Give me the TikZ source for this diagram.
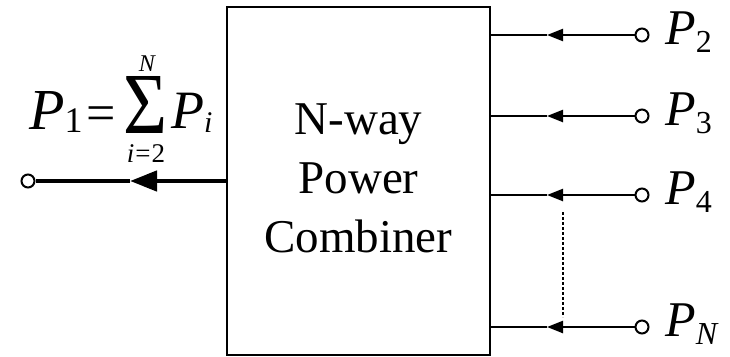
\documentclass[tikz,border=0pt]{standalone}
\usepackage{fontspec}
\setmainfont{Liberation Serif}
\usetikzlibrary{arrows.meta}

% subscript: size and drop below the baseline
\newcommand\portsub[3][32]{\raisebox{-#2}{\fontsize{#1}{#1}\selectfont #3}}
% summation sign with its upper and lower limits stacked on it
\newcommand\sumlimits[2]{%
  \resizebox{44pt}{57pt}{Σ}%
  \llap{\makebox[44pt]{\hspace{4pt}\raisebox{62pt}{\fontsize{24}{24}\itshape #1}}}%
  \llap{\makebox[44pt]{\hspace{2pt}\raisebox{-29pt}{\fontsize{27}{27}\selectfont #2}}}}

\begin{document}
\begin{tikzpicture}[x=1pt,y=-1pt,
  wire/.style={line width=2.4pt},
  mainwire/.style={line width=4.5pt},
  port/.style={circle,draw,line width=2pt,fill=white,inner sep=0pt,minimum size=13pt},
  inhead/.style={-{Triangle[length=16pt,width=12pt]}},
  outhead/.style={-{Triangle[length=27pt,width=20pt]}},
  lbl/.style={anchor=base west,inner sep=0pt,font=\fontsize{50}{50}\selectfont},
  boxtext/.style={align=center,inner sep=0pt,font=\fontsize{47}{59}\selectfont},
  limtext/.style={anchor=base,inner sep=0pt,text depth=0pt},
]
\useasboundingbox (0,0) rectangle (730,356);

% combiner block
\node[draw,line width=2.6pt,minimum width=263pt,minimum height=348pt,inner sep=0pt]
  (comb) at (358.5,181) {};
\node[boxtext] (combtxt) at (358.5,178) {N-way\\Power\\Combiner};

% input ports P2 ... PN
\foreach \n/\yy/\s in {2/35/2, 3/116/3, 4/195/4, N/327/\textit{N}}{
  \node[port] (p\n) at (642,\yy) {};
  \coordinate (t\n) at (547,\yy);
  \draw[wire,inhead] (p\n.west) -- (t\n);
  \draw[wire] (t\n) -- (p\n -| comb.east);
  \node[lbl] (l\n) at (665,\yy+9) {\textit{P}\portsub{8pt}{\s}};
}

% ellipsis between P4 and PN
\coordinate (d1) at (563,212);
\coordinate (d2) at (563,317);
\draw[line width=1.8pt,dash pattern=on 3pt off 2pt] (d1) -- (d2);

% output port P1
\node[port] (p1) at (28,181) {};
\coordinate (t1) at (130,181);
\draw[mainwire,outhead] (comb.west |- p1) -- (t1);
\draw[mainwire] (t1) -- (p1.east);

% output power formula
\node[lbl,font=\fontsize{58}{58}\selectfont] (f1) at (29,129) {\textit{P}\portsub[36]{3pt}{1}};
\node[limtext,font=\fontsize{52}{52}\selectfont] (feq) at (101,130) {=};
\node[limtext] (fsum) at (145,133) {\sumlimits{N}{\textit{i}\kern1pt=\kern1pt2}};
\node[lbl,font=\fontsize{54}{54}\selectfont] (fpi) at (171,128) {\textit{P}\portsub[30]{4pt}{\textit{i}}};
\end{tikzpicture}
\end{document}
